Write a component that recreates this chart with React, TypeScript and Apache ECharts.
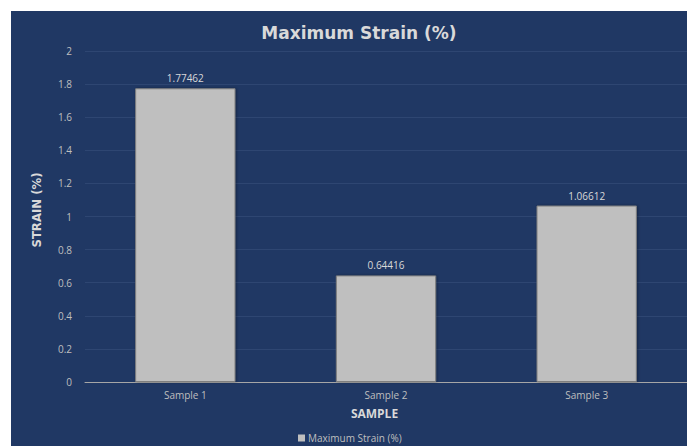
import React, { useEffect, useRef } from "react";
import * as echarts from "echarts";

const categories = ["Sample 1", "Sample 2", "Sample 3"];
const strainValues = [1.77462, 0.64416, 1.06612];
const seriesName = "Maximum Strain (%)";
const chartTitle = "Maximum Strain (%)";
const xAxisTitle = "SAMPLE";
const yAxisTitle = "STRAIN (%)";

const BG = "#203864";
const TXT = "#d9d9d9";

export default function App() {
  const ref = useRef<HTMLDivElement>(null);
  useEffect(() => {
    if (!ref.current) return;
    const chart = echarts.init(ref.current, undefined, { renderer: "svg" });
    chart.setOption({
      animation: false,
      backgroundColor: "#ffffff",
      textStyle: { fontFamily: "Open Sans" },
      graphic: [
        {
          type: "rect",
          z: -10,
          shape: { x: 11, y: 11, width: 676, height: 435 },
          style: { fill: BG },
          silent: true,
        },
        {
          type: "text",
          x: 36,
          y: 210,
          rotation: Math.PI / 2,
          style: {
            text: yAxisTitle,
            fill: TXT,
            font: "bold 13px 'Liberation Sans Narrow', 'DejaVu Sans Condensed', sans-serif",
            align: "center",
            verticalAlign: "middle",
          },
        },
        {
          type: "text",
          x: 374.5,
          y: 413,
          style: {
            text: xAxisTitle,
            fill: TXT,
            font: "bold 12px 'Open Sans', sans-serif",
            align: "center",
            verticalAlign: "middle",
          },
        },
      ],
      title: {
        text: chartTitle,
        left: 354,
        top: 19,
        textAlign: "center",
        textStyle: {
          color: TXT,
          fontFamily: "DejaVu Sans",
          fontWeight: "bold",
          fontSize: 17,
        },
      },
      legend: {
        data: [seriesName],
        left: 298,
        top: 433,
        itemWidth: 7,
        itemHeight: 7,
        itemGap: 5,
        icon: "rect",
        padding: 0,
        itemStyle: { borderWidth: 0, color: "#bfbfbf" },
        textStyle: { color: "#bfbfbf", fontSize: 10, fontFamily: "Open Sans", padding: [0, 0, 0, -2] },
      },
      grid: { left: 85, top: 51, width: 605, height: 331, containLabel: false },
      xAxis: {
        type: "category",
        data: categories,
        axisLine: { lineStyle: { color: "#a6a6a6", width: 1 } },
        axisTick: { show: false },
        axisLabel: { color: "#bfbfbf", fontSize: 10, margin: 8 },
      },
      yAxis: {
        type: "value",
        min: 0,
        max: 2,
        interval: 0.2,
        axisLine: { show: false },
        axisTick: { show: false },
        axisLabel: { color: "#bfbfbf", fontSize: 10, margin: 13 },
        splitLine: { lineStyle: { color: "#2e4672", width: 1 } },
      },
      series: [
        {
          name: seriesName,
          type: "bar",
          data: strainValues,
          barWidth: "50%",
          itemStyle: {
            color: "#bfbfbf",
            borderColor: "#7f7f7f",
            borderWidth: 1,
            shadowColor: "rgba(0,0,0,0.35)",
            shadowBlur: 3,
            shadowOffsetX: 1,
          },
          label: {
            show: true,
            position: "top",
            distance: 5,
            color: TXT,
            fontSize: 10,
            formatter: (p: any) => String(p.value),
          },
        },
      ],
    });
    return () => chart.dispose();
  }, []);
  return (
    <div
      ref={ref}
      style={{ position: "fixed", left: 0, top: 0, width: 687, height: 446 }}
    />
  );
}
